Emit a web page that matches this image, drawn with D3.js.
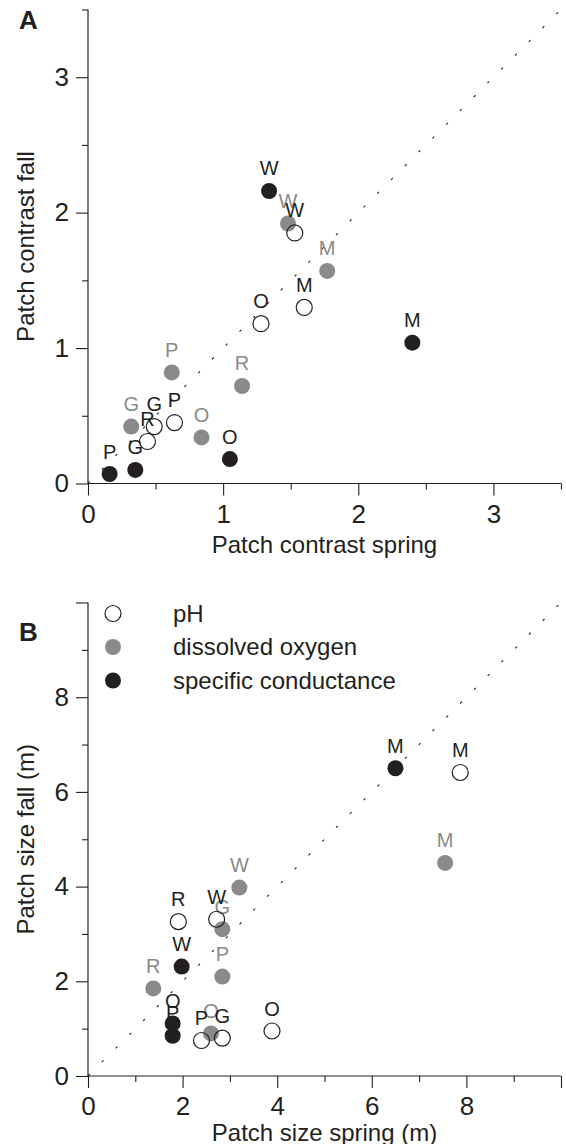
<!DOCTYPE html>
<html>
<head>
<meta charset="utf-8">
<script src="https://cdn.jsdelivr.net/npm/d3@7"></script>
<style>
  body { margin: 0; background: #fff; }
  svg { display: block; font-family: 'Liberation Sans', Arial, sans-serif; }
</style>
</head>
<body>
<div id="chart"></div>
<script>
// Panel A – patch contrast, spring vs fall
const A_PH = [
  { site: 'W', spring: 1.53, fall: 1.85 },
  { site: 'M', spring: 1.60, fall: 1.30 },
  { site: 'O', spring: 1.28, fall: 1.18 },
  { site: 'P', spring: 0.64, fall: 0.45 },
  { site: 'G', spring: 0.49, fall: 0.42 },
  { site: 'R', spring: 0.44, fall: 0.31 }
]
const A_DO = [
  { site: 'W', spring: 1.48, fall: 1.92 },
  { site: 'M', spring: 1.77, fall: 1.57 },
  { site: 'P', spring: 0.62, fall: 0.82 },
  { site: 'R', spring: 1.14, fall: 0.72 },
  { site: 'G', spring: 0.32, fall: 0.42 },
  { site: 'O', spring: 0.84, fall: 0.34 }
]
const A_SC = [
  { site: 'W', spring: 1.34, fall: 2.16 },
  { site: 'M', spring: 2.40, fall: 1.04 },
  { site: 'O', spring: 1.05, fall: 0.18 },
  { site: 'P', spring: 0.16, fall: 0.07 },
  { site: 'G', spring: 0.35, fall: 0.10 }
]

// Panel B – patch size (m), spring vs fall
const B_PH = [
  { site: 'M', spring: 7.87, fall: 6.41 },
  { site: 'R', spring: 1.91, fall: 3.26 },
  { site: 'W', spring: 2.72, fall: 3.31 },
  { site: 'O', spring: 3.89, fall: 0.95 },
  { site: 'P', spring: 2.40, fall: 0.75 },
  { site: 'G', spring: 2.84, fall: 0.80 }
]
const B_DO = [
  { site: 'M', spring: 7.55, fall: 4.50 },
  { site: 'W', spring: 3.20, fall: 3.98 },
  { site: 'G', spring: 2.84, fall: 3.10 },
  { site: 'P', spring: 2.84, fall: 2.10 },
  { site: 'R', spring: 1.38, fall: 1.85 },
  { site: 'O', spring: 2.60, fall: 0.90 }
]
const B_SC = [
  { site: 'M', spring: 6.50, fall: 6.50 },
  { site: 'W', spring: 1.98, fall: 2.31 },
  { site: 'O', spring: 1.79, fall: 1.11 },
  { site: 'P', spring: 1.79, fall: 0.85 }
]

const A_MAJOR = [0, 1, 2, 3]
const A_MINOR = [0.5, 1.5, 2.5, 3.5]
const B_MAJOR = [0, 2, 4, 6, 8, 10]
const B_MINOR = [1, 3, 5, 7, 9]
const B_LABELLED = [0, 2, 4, 6, 8]

const LEGEND = ['pH', 'dissolved oxygen', 'specific conductance']

const WIDTH = 566
const HEIGHT = 1144
const INK = '#231f20'
const GREY = '#8a8a8a'
const STYLE = {
  pH: { fill: 'none', stroke: INK, text: INK },
  'dissolved oxygen': { fill: GREY, stroke: 'none', text: GREY },
  'specific conductance': { fill: INK, stroke: 'none', text: INK }
}

const svg = d3.select('#chart').append('svg')
  .attr('width', WIDTH)
  .attr('height', HEIGHT)

function panel (opt) {
  const x = d3.scaleLinear().domain(opt.domain).range([88, 561])
  const y = d3.scaleLinear().domain(opt.domain).range(opt.yRange)
  const g = svg.append('g')

  // minor ticks
  g.append('g')
    .attr('transform', `translate(0,${y(0)})`)
    .call(d3.axisBottom(x).tickValues(opt.minor).tickSize(6).tickFormat(''))
  g.append('g')
    .attr('transform', `translate(${x(0)},0)`)
    .call(d3.axisLeft(y).tickValues(opt.minor).tickSize(6).tickFormat(''))

  // major ticks with labels
  g.append('g')
    .attr('transform', `translate(0,${y(0)})`)
    .call(d3.axisBottom(x).tickValues(opt.major).tickSize(12).tickPadding(9)
      .tickFormat(d => opt.labelled.includes(d) ? d : ''))
  g.append('g')
    .attr('transform', `translate(${x(0)},0)`)
    .call(d3.axisLeft(y).tickValues(opt.major).tickSize(12).tickPadding(7)
      .tickFormat(d => opt.labelled.includes(d) ? d : ''))

  g.selectAll('.tick line').attr('stroke', INK).attr('stroke-width', 1.1)
  g.selectAll('.tick text')
    .attr('fill', INK)
    .style('font-size', '26px')
    .style('font-family', "'Liberation Sans', Arial, sans-serif")

  // the minor axes repeat the domain path; keep only straight axis lines
  g.selectAll('.domain').remove()
  g.append('line')
    .attr('x1', x(0)).attr('x2', x(opt.domain[1]))
    .attr('y1', y(0)).attr('y2', y(0))
    .attr('stroke', INK).attr('stroke-width', 1.2)
  g.append('line')
    .attr('x1', x(0)).attr('x2', x(0))
    .attr('y1', y(0)).attr('y2', y(opt.domain[1]))
    .attr('stroke', INK).attr('stroke-width', 1.2)

  // 1:1 line
  g.append('line')
    .attr('x1', x(0)).attr('y1', y(0))
    .attr('x2', x(opt.domain[1])).attr('y2', y(opt.domain[1]))
    .attr('stroke', INK).attr('stroke-width', 1.1)
    .attr('stroke-dasharray', '2.5,17')

  // axis titles
  g.append('text')
    .attr('x', (x(0) + x(opt.domain[1])) / 2)
    .attr('y', opt.xTitleY)
    .attr('text-anchor', 'middle')
    .attr('fill', INK)
    .style('font-size', '24px')
    .text(opt.xTitle)
  g.append('text')
    .attr('transform', `translate(34,${(y(0) + y(opt.domain[1])) / 2}) rotate(-90)`)
    .attr('text-anchor', 'middle')
    .attr('fill', INK)
    .style('font-size', '24px')
    .text(opt.yTitle)

  // panel letter
  g.append('text')
    .attr('x', 19).attr('y', opt.letterY)
    .attr('fill', INK)
    .style('font-size', '26px')
    .style('font-weight', 'bold')
    .text(opt.letter)

  // points: grey, then open, then black
  opt.series.forEach(s => {
    const st = STYLE[s.name]
    const sg = g.append('g')
    sg.selectAll('circle')
      .data(s.data)
      .join('circle')
      .attr('cx', d => x(d.spring))
      .attr('cy', d => y(d.fall))
      .attr('r', 8)
      .attr('fill', st.fill)
      .attr('stroke', st.stroke)
      .attr('stroke-width', 1.2)
    sg.selectAll('text')
      .data(s.data)
      .join('text')
      .attr('x', d => x(d.spring))
      .attr('y', d => y(d.fall) - 15.5)
      .attr('text-anchor', 'middle')
      .attr('fill', st.text)
      .style('font-size', '20px')
      .text(d => d.site)
  })

  return { x, y }
}

panel({
  domain: [0, 3.5],
  yRange: [483.5, 9.5],
  major: A_MAJOR,
  minor: A_MINOR,
  labelled: A_MAJOR,
  xTitle: 'Patch contrast spring',
  yTitle: 'Patch contrast fall',
  xTitleY: 553,
  letter: 'A',
  letterY: 29,
  series: [
    { name: 'dissolved oxygen', data: A_DO },
    { name: 'pH', data: A_PH },
    { name: 'specific conductance', data: A_SC }
  ]
})

panel({
  domain: [0, 10],
  yRange: [1076, 602.5],
  major: B_MAJOR,
  minor: B_MINOR,
  labelled: B_LABELLED,
  xTitle: 'Patch size spring (m)',
  yTitle: 'Patch size fall (m)',
  xTitleY: 1141,
  letter: 'B',
  letterY: 641,
  series: [
    { name: 'dissolved oxygen', data: B_DO },
    { name: 'pH', data: B_PH },
    { name: 'specific conductance', data: B_SC }
  ]
})

// legend (panel B)
const legend = svg.append('g')
  .selectAll('g')
  .data(LEGEND)
  .join('g')
  .attr('transform', (d, i) => `translate(113,${613.5 + i * 33.5})`)
legend.append('circle')
  .attr('r', 8)
  .attr('fill', d => STYLE[d].fill === 'none' ? '#fff' : STYLE[d].fill)
  .attr('stroke', d => STYLE[d].stroke)
  .attr('stroke-width', 1.2)
legend.append('text')
  .attr('x', 60)
  .attr('y', 8)
  .attr('fill', INK)
  .style('font-size', '24px')
  .text(d => d)
</script>
</body>
</html>
